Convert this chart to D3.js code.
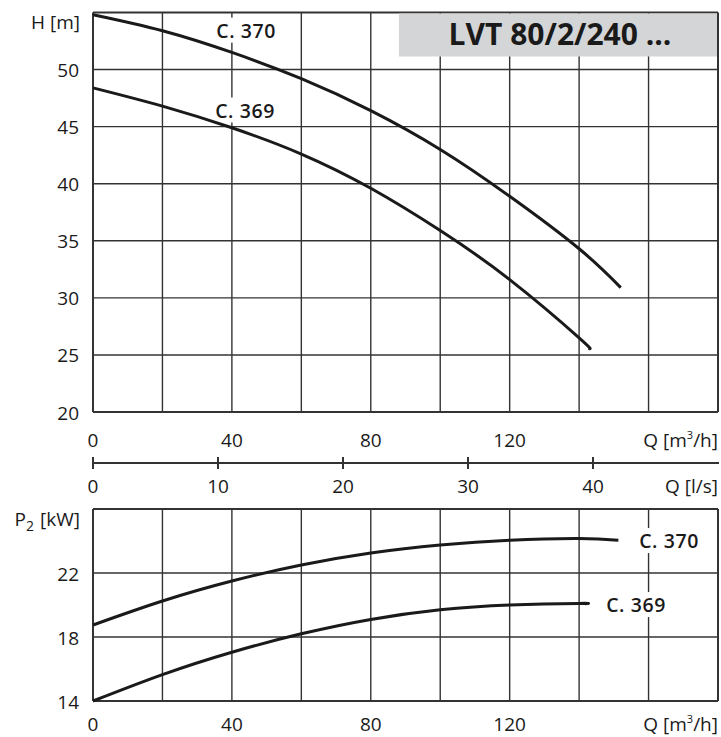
<!DOCTYPE html>
<html><head><meta charset="utf-8">
<script src="https://cdn.jsdelivr.net/npm/d3@7"></script>
<style>body{margin:0;background:#fff} text{font-family:"Open Sans",sans-serif;fill:#1a1a1a}</style>
</head><body><svg id="c" width="721" height="737"></svg>
<script>
// ---- data ----
const q370H=[0,20,40,60,80,100,120,140,152];
const h370=[54.8,53.4,51.5,49.2,46.4,43.0,38.9,34.3,30.9];
const q369H=[0,20,40,60,80,100,120,140,142.7];
const h369=[48.4,46.8,44.9,42.6,39.6,35.9,31.6,26.5,25.6];
const q370P=[0,20,40,60,80,100,120,140,151.3];
const p370=[18.75,20.25,21.5,22.5,23.25,23.75,24.05,24.15,24.05];
const q369P=[0,20,40,60,80,100,120,140,141.7];
const p369=[14.0,15.65,17.05,18.2,19.1,19.7,20.0,20.1,20.08];
const qGrid=[0,20,40,60,80,100,120,140,160,180];
const qLabels=[0,40,80,120];
const lsTicks=[0,10,20,30,40];
const hTicks=[20,25,30,35,40,45,50,55];
const hLabels=[20,25,30,35,40,45,50];
const pTicks=[14,18,22,26];
const pLabels=[14,18,22];
const title="LVT 80/2/240 ...";
const topLabels=[{t:"C. 370",q:44.1,v:52.8},{t:"C. 369",q:43.8,v:45.8}];
const botLabels=[{t:"C. 370",q:165.9,v:23.56},{t:"C. 369",q:156.4,v:19.56}];

// ---- scales ----
const x=d3.scaleLinear([0,180],[93,718]);
const xLs=d3.scaleLinear([0,50],[x(0),x(180)]);
const yH=d3.scaleLinear([20,55],[412,12.5]);
const yP=d3.scaleLinear([14,26],[701,509]);
const svg=d3.select("#c");
const GRID="#333", FS=19;

function panel(y, ticks, labels){
  const g=svg.append("g");
  const [y0,y1]=y.range();
  g.selectAll("line.v").data(qGrid).join("line")
    .attr("x1",d=>x(d)).attr("x2",d=>x(d)).attr("y1",y0).attr("y2",y1)
    .attr("stroke",GRID).attr("stroke-width",d=>(d===0||d===180)?2:1.4);
  g.selectAll("line.h").data(ticks).join("line")
    .attr("x1",x(0)).attr("x2",x(180)).attr("y1",d=>y(d)).attr("y2",d=>y(d))
    .attr("stroke",GRID).attr("stroke-width",(d,i)=>(i===0||i===ticks.length-1)?2:1.4);
  g.selectAll("text.yl").data(labels).join("text")
    .attr("x",79).attr("y",d=>y(d)+7.5).attr("text-anchor","end")
    .attr("font-size",FS).text(d=>d);
  return g;
}
panel(yH,hTicks,hLabels);
panel(yP,pTicks,pLabels);

// title box
svg.append("rect").attr("x",x(88.1)).attr("y",yH(55)+1).attr("width",x(180)-x(88.1)-1).attr("height",43)
  .attr("fill","#d4d5d7");
svg.append("text").attr("x",560).attr("y",45).attr("text-anchor","middle")
  .attr("font-size",30).attr("font-weight",700).attr("fill","#222").text(title);

// x labels
function xLabelRow(yb, arr){
  svg.append("g").selectAll("text").data(arr).join("text")
    .attr("x",d=>x(d)).attr("y",yb).attr("text-anchor","middle").attr("font-size",FS).text(d=>d);
}
xLabelRow(447,qLabels);
xLabelRow(731,qLabels);
function qUnit(yb){
  const t=svg.append("text").attr("x",718).attr("y",yb).attr("text-anchor","end").attr("font-size",FS);
  t.append("tspan").text("Q [m");
  t.append("tspan").attr("font-size",11).attr("dy",-8).text("3");
  t.append("tspan").attr("dy",8).text("/h]");
}
qUnit(447); qUnit(731);

// l/s axis
const ya=463;
svg.append("line").attr("x1",92).attr("x2",719).attr("y1",ya).attr("y2",ya).attr("stroke",GRID).attr("stroke-width",2);
svg.append("g").selectAll("line").data(lsTicks).join("line")
  .attr("x1",d=>xLs(d)).attr("x2",d=>xLs(d)).attr("y1",ya-6).attr("y2",ya+6).attr("stroke",GRID).attr("stroke-width",2);
svg.append("g").selectAll("text").data(lsTicks).join("text")
  .attr("x",d=>xLs(d)).attr("y",493).attr("text-anchor","middle").attr("font-size",FS).text(d=>d);
svg.append("text").attr("x",718).attr("y",493).attr("text-anchor","end").attr("font-size",FS).text("Q [l/s]");

// axis titles
svg.append("text").attr("x",80).attr("y",29).attr("text-anchor","end").attr("font-size",FS).text("H [m]");
const pt=svg.append("text").attr("x",80).attr("y",526).attr("text-anchor","end").attr("font-size",FS);
pt.append("tspan").text("P");
pt.append("tspan").attr("font-size",14).attr("dy",5).text("2");
pt.append("tspan").attr("dy",-5).attr("dx",6).text("[kW]");

// curve labels with white backgrounds
function curveLabels(arr,y){
  const g=svg.append("g");
  arr.forEach(d=>{
    const t=g.append("text").attr("x",x(d.q)).attr("y",y(d.v)).attr("text-anchor","middle")
      .attr("font-size",19.5).attr("font-weight",600).attr("letter-spacing",0.6).text(d.t);
    const b=t.node().getBBox();
    g.insert("rect","text").attr("x",b.x-2).attr("y",b.y+1).attr("width",b.width+4).attr("height",b.height-2).attr("fill","#fff");
  });
}
curveLabels(topLabels,yH);
curveLabels(botLabels,yP);

// curves
function curve(qs,vs,y){
  const pts=qs.map((q,i)=>[x(q),y(vs[i])]);
  svg.append("path").attr("d",d3.line().curve(d3.curveNatural)(pts))
    .attr("fill","none").attr("stroke","#1a1a1a").attr("stroke-width",3).attr("stroke-linecap","butt");
}
curve(q370H,h370,yH);
curve(q369H,h369,yH);
curve(q370P,p370,yP);
curve(q369P,p369,yP);
</script></body></html>
